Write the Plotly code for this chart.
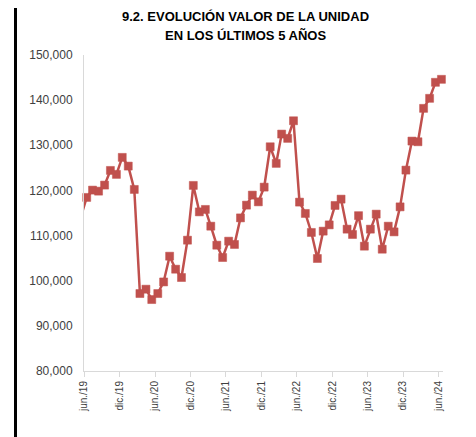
import pandas as pd
import plotly.graph_objects as go

# Monthly dates (mid-month), may/19 (clipped lead-in) .. jun/24
dates = pd.date_range("2019-05-01", "2024-06-01", freq="MS") + pd.Timedelta(days=14)

values = [
    114000,
    118450, 120070, 119840, 121180, 124430, 123550, 127320, 125390, 120220, 97160, 98120, 95830,
    97160, 99730, 105430, 102550, 100710, 108980, 121110, 115250, 115790, 112080, 107870, 105140,
    108760, 108030, 113920, 116740, 118960, 117470, 120730, 129670, 125990, 132480, 131530, 135430,
    117410, 114900, 110690, 104920, 110980, 112370, 116670, 118070, 111420, 110240, 114410, 107650,
    111420, 114750, 106980, 112080, 110820, 116360, 124500, 130930, 130780, 138180, 140400, 143950,
    144610,
]

tick_dates = ["2019-06-01", "2019-12-01", "2020-06-01", "2020-12-01", "2021-06-01", "2021-12-01",
              "2022-06-01", "2022-12-01", "2023-06-01", "2023-12-01", "2024-06-01"]
tick_labels = ["jun./19", "dic./19", "jun./20", "dic./20", "jun./21", "dic./21",
               "jun./22", "dic./22", "jun./23", "dic./23", "jun./24"]
y_ticks = [80000, 90000, 100000, 110000, 120000, 130000, 140000, 150000]
title_lines = ["9.2. EVOLUCIÓN VALOR DE LA UNIDAD", "EN LOS ÚLTIMOS 5 AÑOS"]

RED = "#C0504D"
OFF = 8  # page body margin
FW, FH = 476 - OFF, 437 - OFF
L, R, T, B = 84 - OFF, 443 - OFF, 55 - OFF, 371 - OFF
W, H = R - L, B - T

def px(x):
    return (x - OFF - L) / W

def py(y):
    return (B - (y - OFF)) / H

fig = go.Figure()
fig.add_trace(go.Scatter(x=dates, y=values, mode="lines",
                         line=dict(color=RED, width=2.5), hoverinfo="skip"))
fig.add_trace(go.Scatter(x=dates[1:], y=values[1:], mode="markers",
                         marker=dict(symbol="square", size=8, color=RED,
                                     line=dict(color=RED, width=0.5)),
                         cliponaxis=False))

annotations = [
    dict(text=f"<b>{t}</b>", xref="paper", yref="paper", x=px(245), y=py(yc),
         xanchor="center", yanchor="middle", showarrow=False,
         font=dict(size=13, color="#000000"))
    for t, yc in zip(title_lines, [16, 35])
]

fig.update_layout(
    width=FW, height=FH,
    margin=dict(l=L, r=FW - R, t=T, b=FH - B, autoexpand=False),
    paper_bgcolor="white", plot_bgcolor="white",
    showlegend=False,
    font=dict(family="Liberation Sans, Arial, sans-serif", color="#404040"),
    annotations=annotations,
    xaxis=dict(type="date", range=["2019-06-01", "2024-06-23"],
               tickvals=tick_dates, ticktext=tick_labels, tickangle=-90,
               tickfont=dict(size=10), ticks="outside", ticklen=5,
               tickcolor="#d9d9d9", showline=True, linecolor="#d9d9d9",
               linewidth=1, showgrid=False, zeroline=False, automargin=False),
    yaxis=dict(range=[80000, 150000], tickvals=y_ticks, tickformat=",",
               tickfont=dict(size=12), showline=True, linecolor="#d9d9d9",
               linewidth=1, showgrid=False, zeroline=False, ticks="",
               ticklabelstandoff=8, automargin=False),
    shapes=[dict(type="rect", xref="paper", yref="paper",
                 x0=px(14), x1=px(17), y0=py(437), y1=py(0),
                 fillcolor="black", line=dict(width=0), layer="above")],
)

fig.write_html("out.html")
